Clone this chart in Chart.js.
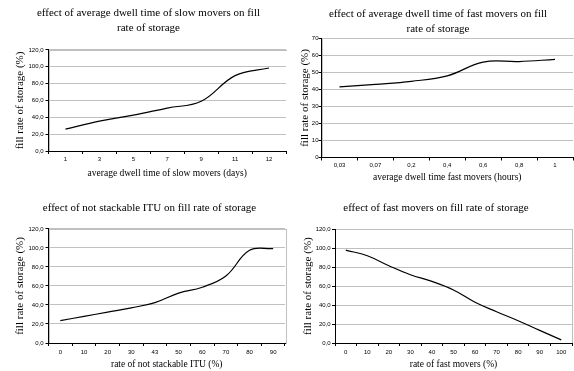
<!DOCTYPE html>
<html>
<head>
<meta charset="utf-8">
<script src="https://cdn.jsdelivr.net/npm/chart.js@4/dist/chart.umd.min.js"></script>
<style>
  html, body { margin: 0; padding: 0; background: #fff; }
  body { width: 574px; height: 371px; position: relative; overflow: hidden; }
  canvas { position: absolute; }
</style>
</head>
<body>
<canvas id="c1" width="287" height="185" style="left:0;top:0"></canvas>
<canvas id="c2" width="287" height="185" style="left:287px;top:0"></canvas>
<canvas id="c3" width="287" height="186" style="left:0;top:185px"></canvas>
<canvas id="c4" width="287" height="186" style="left:287px;top:185px"></canvas>
<script>
// Average dwell time of slow movers (days) vs fill rate (%)
const slowDwellDays = ['1', '3', '5', '7', '9', '11', '12'];
const slowDwellFill = [26, 35.5, 42.5, 51, 59, 89.5, 98.5];

// Average dwell time of fast movers (hours) vs fill rate (%)
const fastDwellHours = ['0,03', '0,07', '0,2', '0,4', '0,6', '0,8', '1'];
const fastDwellFill = [41.5, 43, 44.8, 48, 56.1, 56.4, 57.7];

// Share of not stackable ITU (%) vs fill rate (%)
const notStackableRate = ['0', '10', '20', '30', '43', '50', '60', '70', '80', '90'];
const notStackableFill = [23.5, 28, 32.5, 37, 42.5, 52.5, 58.7, 70.5, 97.5, 99.3];

// Share of fast movers (%) vs fill rate (%)
const fastMoverRate = ['0', '10', '20', '30', '40', '50', '60', '70', '80', '90', '100'];
const fastMoverFill = [98, 92, 81.5, 72, 65, 56, 43, 33, 23.5, 13.3, 3.3];

const SERIF = "'Liberation Serif', 'Times New Roman', serif";
const SANS = "'Liberation Sans', Arial, sans-serif";
const GRID = '#c0c0c0';

// Grey frame around the plot area; the black axes are drawn over its left and bottom edges
const plotFrame = {
  id: 'plotFrame',
  beforeDraw(chart) {
    const a = chart.chartArea, ctx = chart.ctx;
    ctx.save();
    ctx.strokeStyle = GRID;
    ctx.lineWidth = 1;
    ctx.strokeRect(Math.round(a.left) + 0.5, Math.round(a.top) + 0.5,
                   Math.round(a.right - a.left), Math.round(a.bottom - a.top));
    ctx.restore();
  }
};

const commaOne = v => v.toFixed(1).replace('.', ',');

function makeChart(id, cfg) {
  new Chart(document.getElementById(id), {
    type: 'line',
    data: {
      labels: cfg.labels,
      datasets: [{
        data: cfg.values,
        borderColor: '#000',
        borderWidth: 1.2,
        pointRadius: 0,
        tension: 0.4,
        fill: false
      }]
    },
    plugins: [plotFrame],
    options: {
      responsive: false,
      animation: false,
      devicePixelRatio: 1,
      layout: { padding: cfg.pad },
      plugins: {
        legend: { display: false },
        tooltip: { enabled: false },
        title: {
          display: true,
          text: cfg.title,
          color: '#000',
          font: { family: SERIF, size: 11, weight: 'normal', lineHeight: 1.36 },
          padding: cfg.titlePad
        }
      },
      scales: {
        x: {
          type: 'category',
          offset: true,
          grid: { offset: true, drawOnChartArea: false, drawTicks: true, tickLength: 3, tickColor: '#000', color: '#000' },
          border: { color: '#000', width: 1 },
          ticks: { color: '#000', font: { family: SANS, size: 6 }, padding: cfg.xTickPad, maxRotation: 0, autoSkip: false },
          title: {
            display: true,
            text: cfg.xTitle,
            color: '#000',
            font: { family: SERIF, size: 9.5 },
            padding: { top: 0, bottom: cfg.xTitlePad }
          },
          afterFit: s => { s.height = cfg.xHeight; }
        },
        y: {
          min: cfg.yMin, max: cfg.yMax,
          grid: { color: GRID, drawTicks: true, tickLength: 3, tickColor: '#000' },
          border: { color: '#000', width: 1 },
          ticks: { stepSize: cfg.yStep, color: '#000', font: { family: SANS, size: 6 }, padding: cfg.yTickPad, callback: cfg.yFmt },
          title: {
            display: true,
            text: 'fill rate of storage (%)',
            color: '#000',
            font: { family: SERIF, size: 11 },
            padding: { top: cfg.yTitlePad, bottom: 0 }
          },
          afterFit: s => { s.width = cfg.yWidth; }
        }
      }
    }
  });
}

makeChart('c1', {
  labels: slowDwellDays, values: slowDwellFill,
  title: ['effect of average dwell time of slow movers on fill', 'rate of storage'],
  xTitle: 'average dwell time of slow movers (days)',
  pad: { left: 11, right: 1, top: 0, bottom: 0 },
  titlePad: { top: 5.5, bottom: 14.5 },
  yWidth: 37.5, yTitlePad: 2.4, yTickPad: 2,
  xHeight: 34, xTickPad: 1.4, xTitlePad: 6.3,
  yMin: 0, yMax: 120, yStep: 20, yFmt: commaOne
});

makeChart('c2', {
  labels: fastDwellHours, values: fastDwellFill,
  title: ['effect of average dwell time of fast movers on fill', 'rate of storage'],
  xTitle: 'average dwell time fast movers (hours)',
  pad: { left: 16, right: 1, top: 0, bottom: 0 },
  titlePad: { top: 6.5, bottom: 2 },
  yWidth: 18.5, yTitlePad: -4.6, yTickPad: 0,
  xHeight: 27.5, xTickPad: 1, xTitlePad: 2.3,
  yMin: 0, yMax: 70, yStep: 10, yFmt: v => String(v)
});

makeChart('c3', {
  labels: notStackableRate, values: notStackableFill,
  title: 'effect of not stackable ITU on fill rate of storage',
  xTitle: 'rate of not stackable ITU (%)',
  pad: { left: 14, right: 2, top: 0, bottom: 0 },
  titlePad: { top: 15.5, bottom: 13.5 },
  yWidth: 34.5, yTitlePad: -0.6, yTickPad: 2,
  xHeight: 28, xTickPad: 2.4, xTitlePad: 1.3,
  yMin: 0, yMax: 120, yStep: 20, yFmt: commaOne
});

makeChart('c4', {
  labels: fastMoverRate, values: fastMoverFill,
  title: 'effect of fast movers on fill rate of storage',
  xTitle: 'rate of fast movers (%)',
  pad: { left: 13, right: 2, top: 0, bottom: 0 },
  titlePad: { top: 16, bottom: 13.3 },
  yWidth: 35, yTitlePad: 1.1, yTickPad: 1.3,
  xHeight: 28, xTickPad: 2.4, xTitlePad: 1.3,
  yMin: 0, yMax: 120, yStep: 20, yFmt: commaOne
});
</script>
</body>
</html>
